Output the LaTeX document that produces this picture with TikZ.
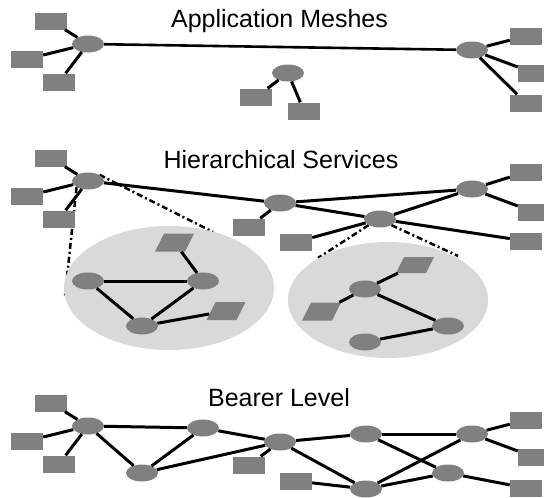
\documentclass[tikz,border=0pt]{standalone}
\usepackage{fontspec}
\setmainfont{Liberation Sans}
\usetikzlibrary{shapes.geometric}
\usetikzlibrary{backgrounds}

\tikzset{
    router/.style={ellipse, fill=gray, minimum width=32pt, minimum height=17pt, inner sep=0pt},
    host/.style={rectangle, fill=gray, minimum width=32pt, minimum height=17pt, inner sep=0pt},
    cell/.style={host, minimum width=30pt, minimum height=18pt, xslant=0.5},
    link/.style={line width=3pt},
    logical/.style={line width=2.5pt, dash pattern=on 6pt off 3pt on 2pt off 3pt},
    heading/.style={font=\fontsize{25}{30}\selectfont, anchor=base},
}

\begin{document}
\begin{tikzpicture}[x=1pt,y=-1pt]
    \useasboundingbox (0,0) rectangle (544,498);
    \node[heading] (app-title) at (279.5,27) {Application Meshes};
    \node[heading] (hier-title) at (281,168) {Hierarchical Services};
    \node[heading] (bear-title) at (279,406) {Bearer Level};
    % the same three hosts hang on the left hub of every level
    \foreach \lvl/\y in {app/44,hier/181,bear/426}{
            \node[router] (\lvl-hub) at (88,\y) {};
            \node[host] (\lvl-h1) at (51,\y-23) {};
            \node[host] (\lvl-h2) at (27,\y+15) {};
            \node[host] (\lvl-h3) at (59,\y+38) {};
            \foreach \h in {1,2,3}
                \draw[link] (\lvl-hub) -- (\lvl-h\h);
        }

    % application meshes
    \node[router] (app-east) at (472,50) {};
    \node[host] (app-e1) at (526,36) {};
    \node[host] (app-e2) at (534,73) {};
    \node[host] (app-e3) at (526,103) {};
    \node[router] (app-mid) at (288,73) {};
    \node[host] (app-m1) at (256,97) {};
    \node[host] (app-m2) at (304,111) {};
    \draw[line width=2.6pt] (app-hub) -- (app-east);
    \foreach \h in {1,2,3}
        \draw[link] (app-east) -- (app-e\h);
    \draw[link] (app-mid) -- (app-m1);
    \draw[link] (app-mid) -- (app-m2);

    % hierarchical services
    \node[router] (hier-b) at (280,203) {};
    \node[host] (hier-b1) at (249,227) {};
    \node[router] (hier-c) at (380,219) {};
    \node[host] (hier-c1) at (296,242) {};
    \node[router] (hier-east) at (472,189) {};
    \node[host] (hier-e1) at (526,172) {};
    \node[host] (hier-e2) at (534,212) {};
    \node[host] (hier-e3) at (526,241) {};
    \draw[link] (hier-hub) -- (hier-b);
    \draw[link] (hier-b) -- (hier-east);
    \draw[link] (hier-b) -- (hier-c);
    \draw[link] (hier-b) -- (hier-b1);
    \draw[link] (hier-c) -- (hier-east);
    \draw[link] (hier-c) -- (hier-c1);
    \draw[link] (hier-c) -- (hier-e3);
    \draw[link] (hier-east) -- (hier-e1);
    \draw[link] (hier-east) -- (hier-e2);

    % inside the left cloud
    \node[router] (sub-a) at (88,281) {};
    \node[router] (sub-b) at (203,281) {};
    \node[router] (sub-c) at (142,326) {};
    \node[cell] (sub-p1) at (174.5,242.5) {};
    \node[cell] (sub-p2) at (226,311) {};
    \draw[link] (sub-a) -- (sub-b);
    \draw[link] (sub-a) -- (sub-c);
    \draw[link] (sub-b) -- (sub-c);
    \draw[link] (sub-b) -- (sub-p1);
    \draw[link] (sub-c) -- (sub-p2);

    % inside the right cloud
    \node[router] (sub-d) at (365,289) {};
    \node[router] (sub-e) at (448,326) {};
    \node[router] (sub-f) at (365,342) {};
    \node[cell, minimum height=16pt] (sub-q1) at (415,265) {};
    \node[cell] (sub-q2) at (321.5,311.5) {};
    \draw[link] (sub-d) -- (sub-q1);
    \draw[link] (sub-d) -- (sub-q2);
    \draw[link] (sub-d) -- (sub-e);
    \draw[link] (sub-e) -- (sub-f);

    % bearer level
    \node[router] (bear-b) at (203,428) {};
    \node[router] (bear-c) at (142,473) {};
    \node[router] (bear-d) at (280,442) {};
    \node[host] (bear-d1) at (249,465) {};
    \node[router] (bear-e) at (366,434) {};
    \node[router] (bear-f) at (366,489) {};
    \node[host] (bear-f1) at (296,481) {};
    \node[router] (bear-g) at (448,473) {};
    \node[router] (bear-east) at (472,434) {};
    \node[host] (bear-e1) at (526,420) {};
    \node[host] (bear-e2) at (534,457) {};
    \node[host] (bear-e3) at (526,488) {};
    \draw[link] (bear-hub) -- (bear-b);
    \draw[link] (bear-hub) -- (bear-c);
    \draw[link] (bear-b) -- (bear-c);
    \draw[link] (bear-b) -- (bear-d);
    \draw[link] (bear-c) -- (bear-d);
    \draw[link] (bear-d) -- (bear-d1);
    \draw[link] (bear-d) -- (bear-e);
    \draw[link] (bear-d) -- (bear-f);
    \draw[link] (bear-e) -- (bear-east);
    \draw[link] (bear-e) -- (bear-g);
    \draw[link] (bear-f) -- (bear-east);
    \draw[link] (bear-f) -- (bear-g);
    \draw[link] (bear-f) -- (bear-f1);
    \draw[link] (bear-east) -- (bear-e1);
    \draw[link] (bear-east) -- (bear-e2);
    \draw[link] (bear-g) -- (bear-e3);

    \begin{scope}[on background layer]
        \coordinate (cloud-l1) at (65,296);
        \coordinate (cloud-l2) at (213,232);
        \coordinate (cloud-r1) at (318,258);
        \coordinate (cloud-r2) at (458,256);
        \draw[logical] (hier-hub.south west) -- (cloud-l1);
        \draw[logical] (hier-hub.north east) -- (cloud-l2);
        \draw[logical] (hier-c.south west) -- (cloud-r1);
        \draw[logical] (hier-c.south east) -- (cloud-r2);
        \fill[gray!30] (169,288) ellipse [x radius=105, y radius=62];
        \fill[gray!30] (388,300) ellipse [x radius=100, y radius=58];
    \end{scope}
\end{tikzpicture}
\end{document}
